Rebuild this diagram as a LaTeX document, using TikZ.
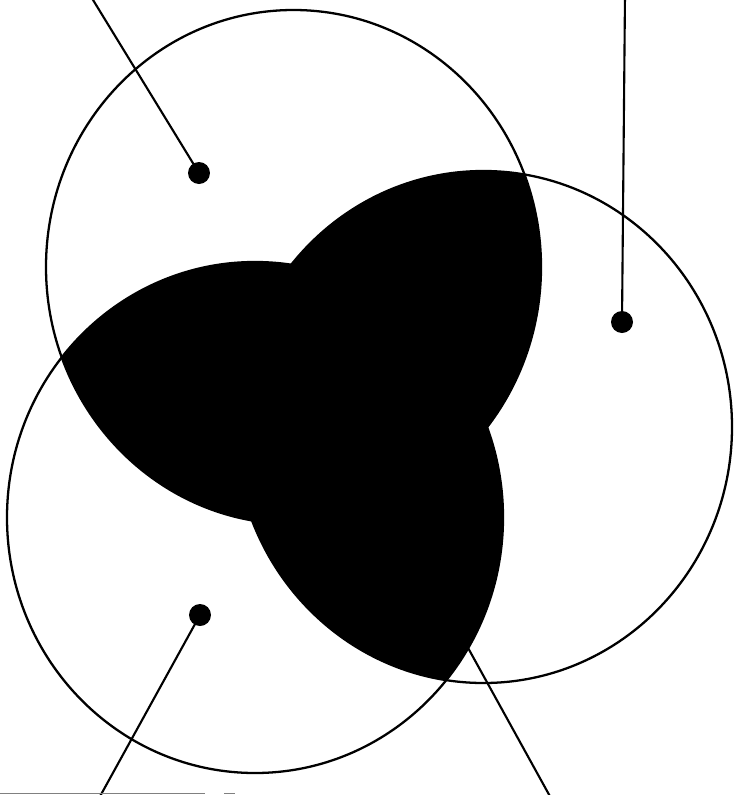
\documentclass[tikz,border=0pt]{standalone}
\begin{document}
\begin{tikzpicture}[x=0.02cm,y=-0.02cm,
  ring/.style={line width=1.3pt},
  lead/.style={line width=1.2pt},
  dot/.style={circle, fill=black, inner sep=0pt, minimum size=0.44cm, outer sep=0pt}]
\useasboundingbox (0,0) rectangle (736,795);
% pairwise overlaps in black
\begin{scope}
\clip (293.5,267) ellipse [x radius=247.5, y radius=257];
\fill (483.5,427) ellipse [x radius=248.5, y radius=256];
\fill (255,517.5) ellipse [x radius=248, y radius=255.5];
\end{scope}
\begin{scope}
\clip (483.5,427) ellipse [x radius=248.5, y radius=256];
\fill (255,517.5) ellipse [x radius=248, y radius=255.5];
\end{scope}
% the three rings
\draw[ring] (293.5,267) ellipse [x radius=247.5, y radius=257];
\draw[ring] (483.5,427) ellipse [x radius=248.5, y radius=256];
\draw[ring] (255,517.5) ellipse [x radius=248, y radius=255.5];
% leaders
\node[dot] (dotA) at (199,173) {};
\node[dot] (dotB) at (622,322) {};
\node[dot] (dotC) at (200,615) {};
\coordinate (endA) at (90,-5);
\coordinate (endB) at (625,-5);
\coordinate (endC) at (98,800);
\coordinate (startD) at (467,646);
\coordinate (endD) at (552,800);
\draw[lead] (dotA.center) -- (endA);
\draw[lead] (dotB.center) -- (endB);
\draw[lead] (dotC.center) -- (endC);
\draw[lead] (startD) -- (endD);
\draw[gray, line width=0.8pt] (0,793.5) -- (205,793.5) (224,793.5) -- (235,793.5);
\end{tikzpicture}
\end{document}
